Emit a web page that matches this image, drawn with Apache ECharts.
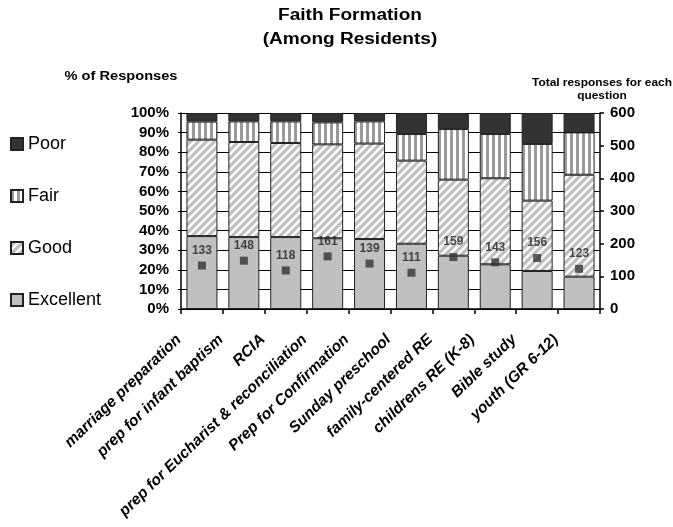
<!DOCTYPE html>
<html>
<head>
<meta charset="utf-8">
<script src="https://cdn.jsdelivr.net/npm/echarts@6/dist/echarts.min.js"></script>
<style>
  html, body { margin: 0; padding: 0; background: #fff; }
  #chart { width: 673px; height: 527px; }
</style>
</head>
<body>
<div id="chart"></div>
<script>
// Faith formation programmes rated by residents
const categories = [
  'marriage preparation', 'prep for infant baptism', 'RCIA',
  'prep for Eucharist & reconciliation', 'Prep for Confirmation',
  'Sunday preschool', 'family-centered RE', 'childrens RE (K-8)',
  'Bible study', 'youth (GR 6-12)'
];
// share of responses (%) per rating
const excellent = [37.2, 36.7, 36.7, 36.1, 35.7, 33.3, 27.2, 22.8, 19.4, 16.5];
const good      = [49.2, 48.5, 48.0, 47.9, 48.7, 42.4, 38.8, 43.9, 35.9, 52.0];
const fair      = [ 9.2, 10.5, 11.0, 11.2, 11.3, 13.6, 25.8, 22.6, 28.9, 21.6];
const poor      = [ 4.4,  4.3,  4.3,  4.8,  4.3, 10.7,  8.2, 10.7, 15.8,  9.9];
// number of responses per question
const totals = [133, 148, 118, 161, 139, 111, 159, 143, 156, 123];

// fill patterns drawn on small tiles
function diagonalTile() {
  const c = document.createElement('canvas');
  c.width = 8; c.height = 8;
  const g = c.getContext('2d');
  g.fillStyle = '#c0c0c0';
  g.fillRect(0, 0, 8, 8);
  g.strokeStyle = '#ffffff';
  g.lineWidth = 2.4;
  [0, 8, 16].forEach(function (k) {
    g.beginPath();
    g.moveTo(k - 8 - 1, 8 + 1);
    g.lineTo(k + 1, -1);
    g.stroke();
  });
  return c;
}
function verticalTile() {
  const c = document.createElement('canvas');
  c.width = 6; c.height = 4;
  const g = c.getContext('2d');
  g.fillStyle = '#ffffff';
  g.fillRect(0, 0, 6, 4);
  g.fillStyle = '#9a9a9a';
  g.fillRect(0, 0, 3, 4);
  return c;
}

const chart = echarts.init(document.getElementById('chart'), null, { renderer: 'canvas' });

const barBorder = { borderColor: '#222', borderWidth: 1 };
const font = 'Liberation Sans, Arial, sans-serif';

function headerText(x, y, text, size, sx) {
  return {
    type: 'text', x: x, y: y, scaleX: sx, originX: 0, originY: 0,
    style: { text: text, font: 'bold ' + size + 'px ' + font, fill: '#000', align: 'center', verticalAlign: 'middle' }
  };
}

chart.setOption({
  animation: false,
  backgroundColor: '#ffffff',
  textStyle: { fontFamily: font },
  graphic: [
    headerText(350, 16, 'Faith Formation', 16, 1.19),
    headerText(350, 40, '(Among Residents)', 16, 1.19),
    headerText(121, 77, '% of Responses', 12.5, 1.17),
    headerText(602, 83, 'Total responses for each', 10, 1.19),
    headerText(602, 96, 'question', 10, 1.19)
  ],
  legend: {
    orient: 'vertical',
    left: 10,
    top: 135,
    padding: 0,
    itemWidth: 12,
    itemHeight: 12,
    itemGap: 34,
    icon: 'rect',
    data: ['Poor', 'Fair', 'Good', 'Excellent'],
    textStyle: { fontSize: 18, color: '#000', fontFamily: font, lineHeight: 18 }
  },
  grid: { left: 181, right: 73, top: 113, bottom: 218, containLabel: false },
  xAxis: {
    type: 'category',
    data: categories,
    axisLine: { lineStyle: { color: '#000', width: 1.5 } },
    axisTick: { show: true, length: 5, lineStyle: { color: '#000', width: 1.5 } },
    axisLabel: {
      rotate: 44,
      interval: 0,
      margin: 6,
      padding: [0, 32, 0, 0],
      fontSize: 15.5,
      fontWeight: 'bold',
      fontStyle: 'italic',
      color: '#000',
      fontFamily: font
    }
  },
  yAxis: [
    {
      type: 'value',
      min: 0, max: 100, interval: 10,
      position: 'left',
      axisLine: { show: true, lineStyle: { color: '#000', width: 1.5 } },
      axisTick: { show: true, length: 3, lineStyle: { color: '#000' } },
      axisLabel: { formatter: '{value}%', fontSize: 15, fontWeight: 'bold', color: '#000', margin: 12, fontFamily: font },
      splitLine: { show: true, lineStyle: { color: '#000', width: 1 } }
    },
    {
      type: 'value',
      min: 0, max: 600, interval: 100,
      position: 'right',
      axisLine: { show: true, lineStyle: { color: '#000', width: 1.5 } },
      axisTick: { show: true, length: 4, lineStyle: { color: '#000', width: 1.5 } },
      axisLabel: { fontSize: 15, fontWeight: 'bold', color: '#000', margin: 10, fontFamily: font },
      splitLine: { show: false }
    }
  ],
  series: [
    { name: 'Excellent', type: 'bar', stack: 'pct', data: excellent, barCategoryGap: '26%',
      itemStyle: Object.assign({ color: '#c0c0c0' }, barBorder) },
    { name: 'Good', type: 'bar', stack: 'pct', data: good,
      itemStyle: Object.assign({ color: { image: diagonalTile(), repeat: 'repeat' } }, barBorder) },
    { name: 'Fair', type: 'bar', stack: 'pct', data: fair,
      itemStyle: Object.assign({ color: { image: verticalTile(), repeat: 'repeat' } }, barBorder) },
    { name: 'Poor', type: 'bar', stack: 'pct', data: poor,
      itemStyle: Object.assign({ color: '#333333' }, barBorder) },
    { name: 'Total responses', type: 'scatter', yAxisIndex: 1, data: totals,
      symbol: 'rect', symbolSize: 8,
      itemStyle: { color: '#333333' },
      label: { show: true, position: 'top', distance: 5, fontSize: 12, fontWeight: 'bold', color: '#222', fontFamily: font },
      z: 5 }
  ]
});
</script>
</body>
</html>
